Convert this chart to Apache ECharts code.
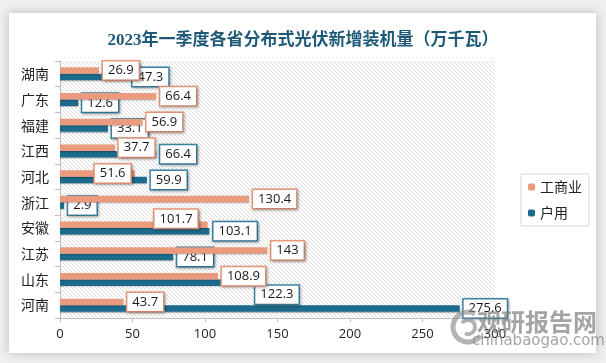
<!DOCTYPE html>
<html>
<head>
<meta charset="utf-8">
<script src="https://cdn.jsdelivr.net/npm/echarts@6/dist/echarts.min.js"></script>
<style>
html,body{margin:0;padding:0;background:#efefef;}
#main{width:606px;height:363px;}
</style>
</head>
<body>
<div id="main"></div>
<script>
var provinces = ['湖南','广东','福建','江西','河北','浙江','安徽','江苏','山东','河南'];
var commercial = [26.9, 66.4, 56.9, 37.7, 51.6, 130.4, 101.7, 143, 108.9, 43.7];
var household = [47.3, 12.6, 33.1, 66.4, 59.9, 2.9, 103.1, 78.1, 122.3, 275.6];
var xTicks = [0, 50, 100, 150, 200, 250, 300];
var seriesNames = ['工商业', '户用'];

var ORANGE = '#EA9A7D';
var BLUE = '#1C6A8C';

// manually moved labels (as in the source chart): category -> [dx, dy]
var commercialLabelMoves = {'河北': [-44, 0], '安徽': [-57, -6]};
var householdLabelMoves = {'山东': [14, 12]};

function withMoves(values, moves){
  return values.map(function(v, i){
    var m = moves[provinces[i]];
    if (!m) return v;
    return {value: v, label: {offset: m}};
  });
}

// hatch pattern
var pc = document.createElement('canvas');
pc.width = 4; pc.height = 4;
var g = pc.getContext('2d');
g.fillStyle = '#ffffff';
g.fillRect(0,0,4,4);
g.strokeStyle = '#dcdcdc';
g.lineWidth = 1;
g.beginPath();
g.moveTo(0,0); g.lineTo(4,4);
g.moveTo(-2,2); g.lineTo(2,6);
g.moveTo(2,-2); g.lineTo(6,2);
g.stroke();

function labelStyle(c){
  return {
    show: true, position: 'right', distance: 4,
    color: '#1a1a1a', fontSize: 13, fontFamily: 'Open Sans, sans-serif',
    backgroundColor: '#fff', borderColor: c, borderWidth: 1.5,
    padding: [3, 5, 2, 5],
    shadowBlur: 3, shadowColor: 'rgba(0,0,0,0.3)', shadowOffsetX: 1, shadowOffsetY: 1
  };
}

var chart = echarts.init(document.getElementById('main'));
chart.setOption({
  backgroundColor: '#efefef',
  animation: false,
  graphic: [
    {type:'rect', z:-10, shape:{x:9,y:13,width:587,height:340}, style:{fill:'#fff', shadowBlur:10, shadowColor:'rgba(0,0,0,0.22)'}},
    {type:'text', z:100, left:477, top:310, style:{text:'观研报告网', font:'bold 24px "Noto Sans CJK SC"', fill:'rgba(125,125,125,0.7)'}},
    {type:'text', z:100, left:472, top:334, style:{text:'chinabaogao.com', font:'15px "DejaVu Sans"', fill:'rgba(125,125,125,0.7)'}},
    {type:'arc', z:100, shape:{cx:468, cy:327, r:15, startAngle:0.6, endAngle:5.2}, style:{stroke:'rgba(140,140,140,0.65)', lineWidth:5, fill:null}},
    {type:'arc', z:100, shape:{cx:468, cy:327, r:7, startAngle:3.7, endAngle:8.3}, style:{stroke:'rgba(140,140,140,0.65)', lineWidth:4, fill:null}}
  ],
  title: {
    text: '2023年一季度各省分布式光伏新增装机量（万千瓦）',
    left: 'center', top: 27,
    textStyle: {fontSize: 17, fontWeight: 'bold', color: '#1E5A78', fontFamily: '"Liberation Serif", "Noto Sans CJK SC"'}
  },
  legend: {
    data: seriesNames,
    orient: 'vertical', left: 521, top: 174,
    itemWidth: 7, itemHeight: 7, itemGap: 12,
    padding: [6, 7, 6, 7],
    borderColor: '#d9d9d9', borderWidth: 1, backgroundColor: '#fff',
    textStyle: {fontSize: 14, color: '#222', fontFamily: '"Noto Sans CJK SC"'}
  },
  grid: {
    left: 60, right: 111, top: 61, bottom: 45,
    show: true, borderWidth: 0,
    backgroundColor: {image: pc, repeat: 'repeat'}
  },
  xAxis: {
    type: 'value', min: 0, max: 300, interval: 50,
    axisLine: {show: true, lineStyle: {color: '#bfbfbf'}},
    axisTick: {show: true, length: 4, lineStyle: {color: '#bfbfbf'}},
    splitLine: {show: false},
    axisLabel: {fontSize: 13, color: '#222', margin: 10, fontFamily: 'Open Sans, sans-serif',
      formatter: function(v){ return xTicks.indexOf(v) >= 0 ? String(v) : ''; }}
  },
  yAxis: {
    type: 'category', data: provinces, inverse: true,
    axisLine: {show: true, lineStyle: {color: '#bfbfbf'}},
    axisTick: {show: true, length: 5, lineStyle: {color: '#bfbfbf'}},
    axisLabel: {fontSize: 14, color: '#222', margin: 11, fontFamily: '"Noto Sans CJK SC"'}
  },
  series: [
    {
      name: seriesNames[0], type: 'bar', data: withMoves(commercial, commercialLabelMoves), z: 3,
      barWidth: 6.5, barGap: '0%',
      itemStyle: {color: ORANGE, shadowBlur: 1, shadowColor: 'rgba(0,0,0,0.25)', shadowOffsetY: 1},
      label: labelStyle(ORANGE)
    },
    {
      name: seriesNames[1], type: 'bar', data: withMoves(household, householdLabelMoves), z: 2,
      barWidth: 6.5, barGap: '0%',
      itemStyle: {color: BLUE, shadowBlur: 1, shadowColor: 'rgba(0,0,0,0.25)', shadowOffsetY: 1},
      label: labelStyle('#3C86A8')
    }
  ]
});
</script>
</body>
</html>
